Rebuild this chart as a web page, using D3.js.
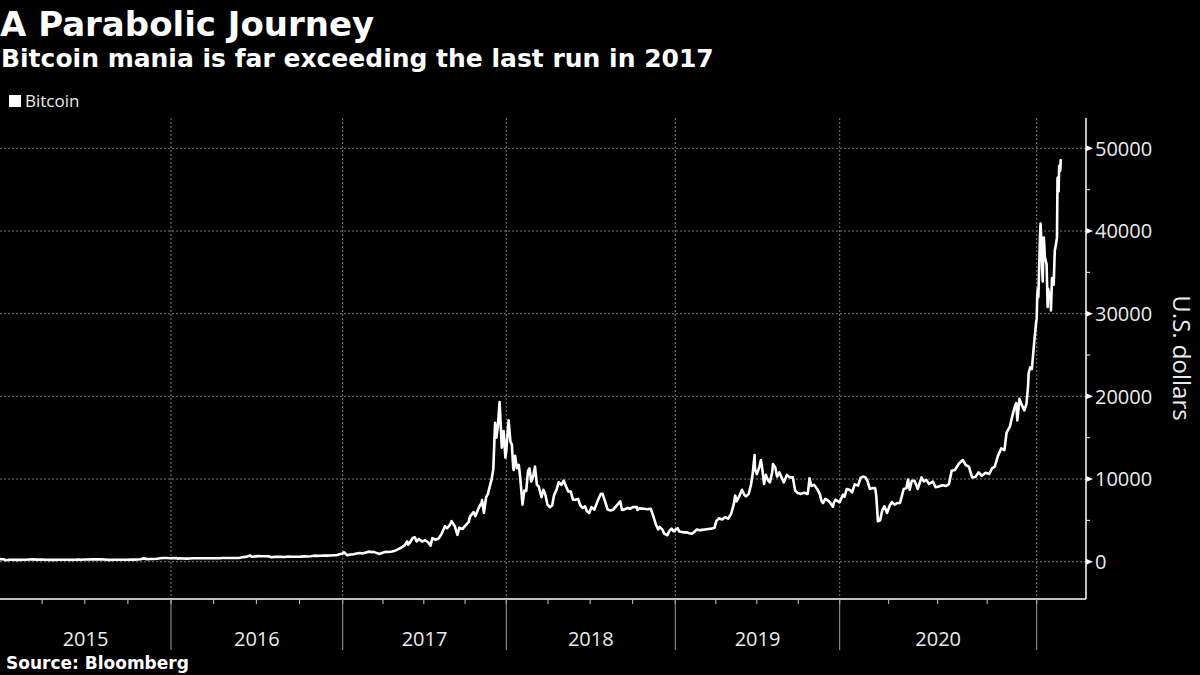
<!DOCTYPE html>
<html>
<head>
<meta charset="utf-8">
<script src="https://cdn.jsdelivr.net/npm/d3@7"></script>
<style>
  html, body { margin: 0; padding: 0; background: #000; }
  svg { display: block; }
</style>
</head>
<body>
<svg id="chart" width="1200" height="675"></svg>
<script>
// ---------------- DATA ----------------
const title = "A Parabolic Journey";
const subtitle = "Bitcoin mania is far exceeding the last run in 2017";
const seriesName = "Bitcoin";
const yAxisTitle = "U.S. dollars";
const sourceText = "Source: Bloomberg";
const yearLabels = ["2015", "2016", "2017", "2018", "2019", "2020"];
const yTickValues = [0, 10000, 20000, 30000, 40000, 50000];

const btc2015 = [["2015-01-01",315],["2015-01-08",290],["2015-01-14",178],["2015-01-21",228],["2015-01-28",233],
["2015-02-04",227],["2015-02-11",220],["2015-02-18",243],["2015-02-25",237],["2015-03-04",272],["2015-03-11",296],
["2015-03-18",256],["2015-03-25",246],["2015-04-01",247],["2015-04-08",245],["2015-04-15",223],["2015-04-22",235],
["2015-04-29",225],["2015-05-06",230],["2015-05-13",242],["2015-05-20",234],["2015-05-27",237],["2015-06-03",225],
["2015-06-10",229],["2015-06-17",249],["2015-06-24",242],["2015-07-01",258],["2015-07-08",270],["2015-07-15",287],
["2015-07-22",277],["2015-07-29",289],["2015-08-05",281],["2015-08-12",267],["2015-08-19",226],["2015-08-26",226],
["2015-09-02",228],["2015-09-09",238],["2015-09-16",230],["2015-09-23",230],["2015-09-30",236],["2015-10-07",246],
["2015-10-14",253],["2015-10-21",269],["2015-10-28",304],["2015-11-04",403],["2015-11-11",311],["2015-11-18",335],
["2015-11-25",328],["2015-12-02",360],["2015-12-09",417],["2015-12-16",455],["2015-12-23",443],["2015-12-30",426]];

const btc2016 = [["2016-01-06",431],["2016-01-13",432],["2016-01-15",373],["2016-01-20",420],["2016-01-27",392],
["2016-02-03",372],["2016-02-10",381],["2016-02-17",415],["2016-02-24",424],["2016-03-02",423],["2016-03-09",412],
["2016-03-16",416],["2016-03-23",418],["2016-03-30",415],["2016-04-06",422],["2016-04-13",425],["2016-04-20",441],
["2016-04-27",447],["2016-05-04",448],["2016-05-11",453],["2016-05-18",454],["2016-05-25",448],["2016-06-01",536],
["2016-06-08",580],["2016-06-15",690],["2016-06-17",750],["2016-06-22",596],["2016-06-29",640],["2016-07-06",670],
["2016-07-13",655],["2016-07-20",665],["2016-07-27",655],["2016-08-02",540],["2016-08-09",587],["2016-08-16",580],
["2016-08-23",582],["2016-08-30",575],["2016-09-06",610],["2016-09-13",608],["2016-09-20",597],["2016-09-27",605],
["2016-10-04",610],["2016-10-11",640],["2016-10-18",638],["2016-10-25",656],["2016-11-01",730],["2016-11-08",709],
["2016-11-15",712],["2016-11-22",740],["2016-11-29",733],["2016-12-06",760],["2016-12-13",780],["2016-12-20",800],
["2016-12-27",935]];

const btc2017 = [["2017-01-01",998],["2017-01-04",1135],["2017-01-11",780],["2017-01-18",880],["2017-01-25",895],
["2017-02-01",985],["2017-02-08",1050],["2017-02-15",1010],["2017-02-22",1120],["2017-03-01",1220],["2017-03-08",1150],
["2017-03-10",1195],["2017-03-17",1070],["2017-03-24",940],["2017-03-31",1080],["2017-04-07",1190],["2017-04-14",1170],
["2017-04-21",1240],["2017-04-28",1330],["2017-05-05",1520],["2017-05-12",1720],["2017-05-19",1980],["2017-05-25",2450],
["2017-05-27",2050],["2017-06-01",2400],["2017-06-06",2860],["2017-06-11",2950],["2017-06-15",2450],["2017-06-20",2750],
["2017-06-27",2450],["2017-07-04",2600],["2017-07-11",2330],["2017-07-16",1930],["2017-07-20",2850],["2017-07-27",2660],
["2017-08-03",2800],["2017-08-10",3400],["2017-08-17",4300],["2017-08-22",4050],["2017-08-27",4350],["2017-09-01",4900],
["2017-09-08",4300],["2017-09-14",3250],["2017-09-18",4100],["2017-09-25",3950],["2017-10-02",4400],["2017-10-09",4800],
["2017-10-12",5450],["2017-10-20",6000],["2017-10-24",5500],["2017-10-31",6450],["2017-11-07",7150],["2017-11-08",7450],
["2017-11-12",5900],["2017-11-17",7800],["2017-11-21",8200],["2017-11-26",9300],["2017-11-29",9900],["2017-12-03",11200],
["2017-12-07",16800],["2017-12-10",15000],["2017-12-13",16300],["2017-12-17",19300],["2017-12-22",13800],
["2017-12-26",15800],["2017-12-30",12600]];

const btc2018 = [["2018-01-01",13400],["2018-01-03",15000],["2018-01-06",17100],["2018-01-10",14500],["2018-01-13",14200],
["2018-01-16",11300],["2018-01-17",11100],["2018-01-20",12800],["2018-01-24",11300],["2018-01-28",11700],
["2018-01-31",10200],["2018-02-02",8900],["2018-02-05",6900],["2018-02-09",8600],["2018-02-13",8550],["2018-02-17",11000],
["2018-02-20",11300],["2018-02-24",9700],["2018-02-28",10300],["2018-03-04",11500],["2018-03-08",9300],["2018-03-12",9100],
["2018-03-18",7800],["2018-03-22",8700],["2018-03-26",8200],["2018-03-31",6900],["2018-04-05",6600],["2018-04-10",6800],
["2018-04-14",8000],["2018-04-20",8800],["2018-04-24",9600],["2018-04-30",9300],["2018-05-05",9800],["2018-05-10",9100],
["2018-05-15",8500],["2018-05-20",8500],["2018-05-25",7500],["2018-05-30",7500],["2018-06-05",7600],["2018-06-10",6800],
["2018-06-15",6500],["2018-06-20",6700],["2018-06-24",6100],["2018-06-29",5900],["2018-07-04",6600],["2018-07-10",6300],
["2018-07-17",7300],["2018-07-24",8200],["2018-07-28",8200],["2018-08-04",7000],["2018-08-08",6300],["2018-08-14",6200],
["2018-08-20",6300],["2018-08-26",6700],["2018-09-04",7300],["2018-09-08",6250],["2018-09-12",6300],["2018-09-20",6500],
["2018-09-25",6400],["2018-10-01",6600],["2018-10-10",6600],["2018-10-11",6250],["2018-10-16",6450],["2018-10-25",6400],
["2018-11-02",6350],["2018-11-09",6400],["2018-11-14",5600],["2018-11-19",4700],["2018-11-20",4500],["2018-11-25",3900],
["2018-11-28",4200],["2018-12-04",3900],["2018-12-08",3400],["2018-12-15",3200],["2018-12-19",3700],["2018-12-24",4000],
["2018-12-28",3700],["2018-12-31",3700]];

const btc2019 = [["2019-01-01",3850],["2019-01-06",4050],["2019-01-10",3650],["2019-01-15",3600],["2019-01-20",3550],
["2019-01-27",3550],["2019-02-01",3450],["2019-02-07",3400],["2019-02-12",3600],["2019-02-18",3900],["2019-02-24",3800],
["2019-03-01",3850],["2019-03-08",3900],["2019-03-15",3950],["2019-03-22",4000],["2019-03-29",4100],["2019-04-02",4900],
["2019-04-08",5250],["2019-04-15",5100],["2019-04-22",5400],["2019-04-28",5200],["2019-05-05",5800],["2019-05-11",7000],
["2019-05-14",8000],["2019-05-17",7300],["2019-05-22",7800],["2019-05-29",8700],["2019-06-03",8100],["2019-06-07",7900],
["2019-06-13",8200],["2019-06-18",9300],["2019-06-22",10700],["2019-06-26",12900],["2019-06-27",11200],["2019-07-01",10600],
["2019-07-07",11500],["2019-07-10",12300],["2019-07-13",11300],["2019-07-17",9400],["2019-07-21",10500],["2019-07-26",9850],
["2019-07-30",9600],["2019-08-04",10800],["2019-08-06",11800],["2019-08-11",11400],["2019-08-15",10300],["2019-08-20",10800],
["2019-08-25",10200],["2019-08-30",9600],["2019-09-06",10500],["2019-09-12",10200],["2019-09-19",10200],["2019-09-24",8600],
["2019-09-30",8300],["2019-10-07",8200],["2019-10-14",8350],["2019-10-22",8200],["2019-10-25",9550],["2019-10-26",10100],
["2019-10-30",9150],["2019-11-05",9300],["2019-11-12",8800],["2019-11-18",8150],["2019-11-22",7300],["2019-11-25",7100],
["2019-11-30",7600],["2019-12-06",7400],["2019-12-10",7200],["2019-12-17",6650],["2019-12-19",7150],["2019-12-23",7500],
["2019-12-31",7200]];

const btc2020 = [["2020-01-01",7200],["2020-01-07",8100],["2020-01-10",7850],["2020-01-14",8800],["2020-01-19",8700],
["2020-01-24",8400],["2020-01-29",9350],["2020-02-04",9200],["2020-02-09",10150],["2020-02-13",10300],["2020-02-18",10200],
["2020-02-22",9700],["2020-02-26",8800],["2020-03-02",8900],["2020-03-07",8900],["2020-03-09",7900],["2020-03-12",4900],
["2020-03-16",5000],["2020-03-20",6200],["2020-03-24",6700],["2020-03-29",5900],["2020-04-03",6800],["2020-04-07",7200],
["2020-04-12",6900],["2020-04-17",7100],["2020-04-22",7100],["2020-04-29",8800],["2020-05-04",8900],["2020-05-07",9950],
["2020-05-10",8700],["2020-05-14",9800],["2020-05-19",9800],["2020-05-25",8800],["2020-06-01",10200],["2020-06-05",9700],
["2020-06-10",9900],["2020-06-15",9400],["2020-06-22",9700],["2020-06-27",9000],["2020-07-03",9100],["2020-07-10",9250],
["2020-07-17",9150],["2020-07-22",9400],["2020-07-27",11000],["2020-08-02",11100],["2020-08-10",11900],["2020-08-17",12300],
["2020-08-22",11700],["2020-08-28",11500],["2020-09-03",10200],["2020-09-09",10250],["2020-09-15",10800],["2020-09-21",10400],
["2020-09-28",10750],["2020-10-05",10600],["2020-10-10",11300],["2020-10-15",11500],["2020-10-21",12800],["2020-10-27",13700],
["2020-11-02",13500],["2020-11-06",15600],["2020-11-12",16300],["2020-11-17",17700],["2020-11-21",18700],["2020-11-24",19200],
["2020-11-26",17100],["2020-11-30",19700],["2020-12-04",19000],["2020-12-09",18300],["2020-12-13",19100],["2020-12-16",21300],
["2020-12-17",22800],["2020-12-20",23500],["2020-12-23",23300],["2020-12-27",26300],["2020-12-31",29000]];

const btc2021 = [["2021-01-01",29400],["2021-01-02",32200],["2021-01-03",33000],["2021-01-04",32000],["2021-01-06",36800],
["2021-01-07",39400],["2021-01-08",40900],["2021-01-10",38200],["2021-01-11",35500],["2021-01-12",33900],["2021-01-13",37300],
["2021-01-14",39200],["2021-01-16",36800],["2021-01-19",36000],["2021-01-21",30800],["2021-01-22",33000],["2021-01-24",32300],
["2021-01-26",32400],["2021-01-27",30400],["2021-01-29",34300],["2021-02-01",33500],["2021-02-03",37600],["2021-02-05",38300],
["2021-02-07",39200],["2021-02-08",46400],["2021-02-09",46500],["2021-02-10",44800],["2021-02-11",47900],["2021-02-12",47400],
["2021-02-13",47300],["2021-02-14",48700]];

// ---------------- LAYOUT ----------------
const parse = d3.utcParse("%Y-%m-%d");
const series = [...btc2015, ...btc2016, ...btc2017, ...btc2018, ...btc2019, ...btc2020, ...btc2021]
  .map(([d, v]) => ({ date: parse(d), value: v }));

const svg = d3.select("#chart");
svg.append("rect").attr("width", 1200).attr("height", 675).attr("fill", "#000");

const plotLeft = 0, plotRight = 1086, plotTop = 118, plotBottom = 599;

// Bloomberg's time axis is not perfectly uniform: a polylinear time scale with
// year breakpoints reproduces the spacing of the reference.
const yearStarts = yearLabels.map(y => parse(`${y}-01-01`)).concat([parse("2021-01-01"), parse("2021-04-01")]);
const xScale = d3.scaleUtc()
  .domain(yearStarts)
  .range([0, 171, 342.7, 506.3, 675.3, 839.7, 1036.7, 1086]);

const yScale = d3.scaleLinear().domain([-4390, 53670]).range([598, 118]);

// gridlines
const grid = svg.append("g");
grid.selectAll("line.h").data(yTickValues).join("line")
  .attr("x1", plotLeft).attr("x2", plotRight)
  .attr("y1", d => yScale(d)).attr("y2", d => yScale(d))
  .attr("stroke", "#7a7a7a").attr("stroke-width", 1).attr("stroke-dasharray", "2,2");

const boundaryDates = yearStarts.slice(1, 7);
grid.selectAll("line.v").data(boundaryDates).join("line")
  .attr("x1", d => xScale(d)).attr("x2", d => xScale(d))
  .attr("y1", plotTop).attr("y2", plotBottom)
  .attr("stroke", "#7a7a7a").attr("stroke-width", 1).attr("stroke-dasharray", "2,2");

// x axis
const xAxisG = svg.append("g");
xAxisG.append("line").attr("x1", plotLeft).attr("x2", plotRight)
  .attr("y1", plotBottom).attr("y2", plotBottom)
  .attr("stroke", "#fff").attr("stroke-width", 1.5);
const quarterTicks = d3.utcMonth.every(3).range(parse("2015-04-01"), parse("2021-04-01"));
xAxisG.selectAll("line.q").data(quarterTicks).join("line")
  .attr("x1", d => xScale(d)).attr("x2", d => xScale(d))
  .attr("y1", plotBottom).attr("y2", plotBottom + 5)
  .attr("stroke", "#cfcfcf").attr("stroke-width", 1);
xAxisG.selectAll("line.sep").data(boundaryDates).join("line")
  .attr("x1", d => xScale(d)).attr("x2", d => xScale(d))
  .attr("y1", plotBottom).attr("y2", 650)
  .attr("stroke", "#a0a0a0").attr("stroke-width", 1);
xAxisG.selectAll("text").data(yearLabels).join("text")
  .attr("x", (d, i) => (xScale(yearStarts[i]) + xScale(yearStarts[i + 1])) / 2)
  .attr("y", 646)
  .attr("text-anchor", "middle")
  .attr("font-family", "'Open Sans', sans-serif").attr("font-size", 20)
  .attr("fill", "#ececec")
  .text(d => d);

// y axis (right)
const yAxisG = svg.append("g");
yAxisG.append("line").attr("x1", plotRight).attr("x2", plotRight)
  .attr("y1", plotTop).attr("y2", plotBottom)
  .attr("stroke", "#fff").attr("stroke-width", 1.5);
const minorY = d3.range(5000, 50000, 10000);
yAxisG.selectAll("line.m").data(minorY).join("line")
  .attr("x1", plotRight).attr("x2", plotRight + 4)
  .attr("y1", d => yScale(d)).attr("y2", d => yScale(d))
  .attr("stroke", "#fff").attr("stroke-width", 1);
yAxisG.selectAll("path.tri").data(yTickValues).join("path")
  .attr("d", d => `M${plotRight},${yScale(d) - 3}L${plotRight + 7},${yScale(d)}L${plotRight},${yScale(d) + 3}Z`)
  .attr("fill", "#fff");
yAxisG.selectAll("text").data(yTickValues).join("text")
  .attr("x", plotRight + 9).attr("y", d => yScale(d)).attr("dy", "0.36em")
  .attr("font-family", "'Open Sans', sans-serif").attr("font-size", 20)
  .attr("fill", "#ececec")
  .text(d => d3.format("d")(d));
svg.append("text")
  .attr("transform", `translate(1173,${358}) rotate(90)`)
  .attr("text-anchor", "middle")
  .attr("font-family", "'Open Sans', sans-serif").attr("font-size", 24)
  .attr("fill", "#ececec")
  .text(yAxisTitle);

// line
const line = d3.line().x(d => xScale(d.date)).y(d => yScale(d.value));
svg.append("path").datum(series)
  .attr("d", line)
  .attr("fill", "none").attr("stroke", "#fff").attr("stroke-width", 2.6)
  .attr("stroke-linejoin", "round");

// titles & legend
svg.append("text").attr("x", 0).attr("y", 36)
  .attr("font-family", "'DejaVu Sans', sans-serif").attr("font-weight", "bold").attr("font-size", 34)
  .attr("fill", "#fff").text(title);
svg.append("text").attr("x", 1).attr("y", 67)
  .attr("font-family", "'DejaVu Sans', sans-serif").attr("font-weight", "bold").attr("font-size", 25)
  .attr("fill", "#fff").text(subtitle);
svg.append("rect").attr("x", 9).attr("y", 95).attr("width", 12).attr("height", 12).attr("fill", "#fff");
svg.append("text").attr("x", 25).attr("y", 106.5)
  .attr("font-family", "'Open Sans', sans-serif").attr("font-size", 17)
  .attr("fill", "#ececec").text(seriesName);
svg.append("text").attr("x", 6).attr("y", 669)
  .attr("font-family", "'DejaVu Sans', sans-serif").attr("font-weight", "bold").attr("font-size", 17)
  .attr("fill", "#fff").text(sourceText);
</script>
</body>
</html>
